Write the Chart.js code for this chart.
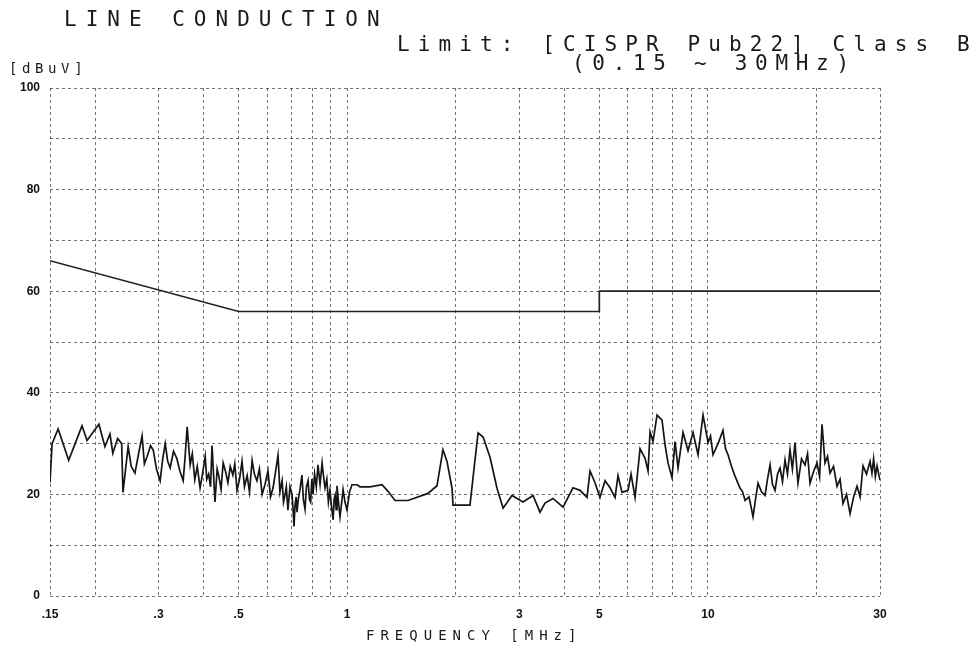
<!DOCTYPE html>
<html lang="en">
<head>
  <meta charset="UTF-8">
  <title>Line Conduction - CISPR Pub22 Class B</title>
  <script src="https://cdn.jsdelivr.net/npm/chart.js"></script>
  <style>
    body {
      margin: 0;
      background: #fff;
    }
    .wrap {
      position: relative;
      width: 977px;
      height: 650px;
    }
    .label {
      position: absolute;
      font-family: 'DejaVu Sans Mono', monospace;
      color: #1a1a1a;
      white-space: pre;
      line-height: 1;
    }
    #title { left: 64px; top: 9px; font-size: 21px; letter-spacing: 9px; }
    #limit { left: 397px; top: 34px; font-size: 21px; letter-spacing: 8.1px; }
    #range { left: 572px; top: 53px; font-size: 21px; letter-spacing: 7.7px; }
    #unit  { left: 9px;  top: 61px; font-size: 14px; letter-spacing: 4.6px; }
    #xname { left: 366px; top: 628px; font-size: 14px; letter-spacing: 6px; }
  </style>
</head>
<body>
<div class="wrap">
  <canvas id="emi" width="977" height="650"></canvas>
  <div class="label" id="title">LINE CONDUCTION</div>
  <div class="label" id="limit">Limit: [CISPR Pub22] Class B</div>
  <div class="label" id="range">(0.15 ~ 30MHz)</div>
  <div class="label" id="unit">[dBuV]</div>
  <div class="label" id="xname">FREQUENCY [MHz]</div>
</div>

<script>
  const freqs = [
    0.150, 0.152, 0.158, 0.169, 0.184, 0.190, 0.205, 0.213, 0.220, 0.224,
    0.231, 0.237, 0.239, 0.247, 0.252, 0.258, 0.264, 0.270, 0.274, 0.279,
    0.285, 0.290, 0.296, 0.303, 0.308, 0.313, 0.318, 0.323, 0.330, 0.337,
    0.344, 0.351, 0.355, 0.360, 0.367, 0.372, 0.378, 0.384, 0.391, 0.397,
    0.404, 0.408, 0.413, 0.418, 0.422, 0.426, 0.430, 0.436, 0.441, 0.447,
    0.453, 0.460, 0.467, 0.474, 0.482, 0.488, 0.495, 0.503, 0.511, 0.519,
    0.528, 0.536, 0.545, 0.553, 0.562, 0.571, 0.581, 0.592, 0.603, 0.613,
    0.623, 0.633, 0.643, 0.651, 0.660, 0.666, 0.672, 0.678, 0.685, 0.694,
    0.703, 0.708, 0.712, 0.717, 0.722, 0.726, 0.731, 0.740, 0.749, 0.756,
    0.764, 0.771, 0.779, 0.786, 0.792, 0.798, 0.804, 0.812, 0.821, 0.830,
    0.841, 0.852, 0.860, 0.868, 0.878, 0.887, 0.896, 0.905, 0.914, 0.920,
    0.926, 0.932, 0.937, 0.946, 0.955, 0.964, 0.974, 0.986, 0.999, 1.015,
    1.031, 1.065, 1.085, 1.157, 1.249, 1.298, 1.357, 1.474, 1.675, 1.774,
    1.843, 1.891, 1.953, 1.965, 2.190, 2.262, 2.306, 2.381, 2.489, 2.602,
    2.705, 2.864, 2.957, 3.072, 3.275, 3.424, 3.535, 3.720, 3.966, 4.227,
    4.420, 4.623, 4.712, 4.865, 5.022, 5.186, 5.354, 5.528, 5.634, 5.780,
    6.006, 6.122, 6.282, 6.485, 6.695, 6.825, 6.912, 7.045, 7.227, 7.462,
    7.605, 7.752, 7.953, 8.108, 8.264, 8.532, 8.808, 9.094, 9.390, 9.695,
    10.01, 10.17, 10.33, 10.67, 11.01, 11.19, 11.37, 11.63, 11.89, 12.28,
    12.48, 12.68, 13.00, 13.34, 13.55, 13.77, 14.08, 14.40, 14.63, 14.87,
    15.10, 15.35, 15.60, 15.85, 16.10, 16.36, 16.62, 16.89, 17.15, 17.44,
    17.60, 17.77, 18.18, 18.59, 18.89, 19.19, 19.63, 20.07, 20.40, 20.72,
    21.12, 21.46, 21.81, 22.30, 22.80, 23.25, 23.69, 24.23, 24.78, 25.35,
    25.91, 26.42, 26.92, 27.53, 28.15, 28.50, 28.80, 29.12, 29.44, 29.75,
    30.00
  ];
  const levels = [
    22.3, 30.0, 32.9, 26.7, 33.5, 30.6, 33.8, 29.4, 31.9, 28.1,
    31.0, 30.0, 20.4, 29.4, 25.5, 24.2, 28.0, 31.5, 26.0, 27.5,
    29.6, 28.7, 25.0, 22.7, 27.0, 30.0, 26.5, 25.2, 28.5, 27.1,
    24.5, 22.7, 27.0, 33.3, 25.8, 28.0, 22.9, 25.5, 21.3, 24.0,
    27.5, 23.0, 24.0, 21.5, 29.6, 24.0, 18.5, 25.0, 23.5, 21.0,
    26.2, 24.5, 22.3, 25.5, 23.8, 26.0, 20.8, 23.0, 26.5, 21.5,
    23.7, 20.5, 26.7, 24.0, 22.7, 25.0, 20.0, 22.0, 24.6, 19.5,
    21.3, 24.5, 27.7, 20.5, 22.7, 18.5, 19.8, 21.5, 16.9, 21.5,
    20.0, 17.0, 13.7, 18.0, 19.5, 16.5, 18.8, 21.0, 23.8, 19.0,
    17.1, 21.5, 22.7, 19.0, 18.5, 23.0, 20.0, 24.0, 21.5, 25.8,
    22.0, 26.2, 23.5, 21.3, 23.0, 18.5, 20.8, 17.5, 15.0, 19.0,
    19.8, 17.0, 21.7, 18.5, 15.6, 18.0, 21.0, 18.5, 16.9, 20.5,
    21.9, 21.9, 21.5, 21.5, 21.9, 20.6, 18.8, 18.8, 20.2, 21.7,
    28.8, 26.5, 21.2, 17.9, 17.9, 26.9, 32.1, 31.3, 27.3, 21.2,
    17.3, 19.8, 19.2, 18.5, 19.8, 16.5, 18.3, 19.2, 17.5, 21.3,
    20.8, 19.4, 24.6, 22.3, 19.4, 22.7, 21.3, 19.4, 23.7, 20.4,
    20.8, 24.0, 19.4, 29.0, 27.1, 24.6, 32.3, 30.4, 35.6, 34.6,
    29.8, 26.2, 23.3, 30.4, 25.2, 32.2, 28.6, 32.2, 27.8, 35.6,
    30.2, 31.5, 27.8, 30.0, 32.6, 29.0, 27.8, 25.5, 23.6, 21.2,
    20.5, 18.8, 19.5, 15.6, 19.0, 22.2, 20.5, 19.8, 23.0, 25.8,
    22.0, 20.8, 24.0, 25.2, 22.5, 26.8, 24.0, 28.8, 25.0, 30.2,
    26.0, 22.2, 27.0, 25.8, 28.0, 22.2, 24.5, 26.2, 23.5, 33.8,
    26.2, 27.5, 24.2, 25.5, 21.6, 23.0, 18.2, 20.0, 16.2, 19.5,
    21.6, 19.5, 25.6, 24.0, 26.5, 24.2, 27.0, 23.5, 25.6, 24.0,
    22.8
  ];

  // CISPR 22 class B limit
  const limitFreqs = [0.15, 0.5, 5, 5, 30];
  const limitLevels = [66, 56, 56, 60, 60];

  // axes
  const gridFreqs = [0.15, 0.2, 0.3, 0.4, 0.5, 0.6, 0.7, 0.8, 0.9, 1,
                     2, 3, 4, 5, 6, 7, 8, 9, 10, 20, 30];
  const freqLabels = { 0.15: '.15', 0.3: '.3', 0.5: '.5', 1: '1', 3: '3', 5: '5', 10: '10', 30: '30' };
  const levelLabels = [0, 20, 40, 60, 80, 100];

  const toPoints = (xs, ys) => xs.map((x, i) => ({ x: x, y: ys[i] }));

  const tickFont = { family: "'Liberation Sans', sans-serif", size: 12, weight: 'bold' };
  const gridColor = 'rgba(0,0,0,0.55)';

  new Chart(document.getElementById('emi'), {
    type: 'line',
    data: {
      datasets: [
        {
          label: 'Limit',
          data: toPoints(limitFreqs, limitLevels),
          borderColor: '#222',
          borderWidth: 1.7,
          pointRadius: 0,
          tension: 0
        },
        {
          label: 'Level',
          data: toPoints(freqs, levels),
          borderColor: '#151515',
          borderWidth: 1.7,
          pointRadius: 0,
          tension: 0
        }
      ]
    },
    options: {
      responsive: false,
      animation: false,
      layout: { padding: { left: 0, right: 97, top: 88, bottom: 0 } },
      plugins: {
        legend: { display: false },
        tooltip: { enabled: false }
      },
      scales: {
        x: {
          type: 'logarithmic',
          min: 0.15,
          max: 30,
          afterBuildTicks: scale => {
            scale.ticks = gridFreqs.map(v => ({ value: v }));
          },
          afterFit: scale => { scale.height = 54; },
          ticks: {
            autoSkip: false,
            maxRotation: 0,
            padding: 11,
            color: '#111',
            font: tickFont,
            callback: value => freqLabels[value] || ''
          },
          grid: { color: gridColor, lineWidth: 1, drawTicks: false },
          border: { display: false, dash: [3, 3] }
        },
        y: {
          min: 0,
          max: 100,
          afterFit: scale => { scale.width = 50; },
          ticks: {
            stepSize: 10,
            padding: 10,
            color: '#111',
            font: tickFont,
            callback: value => levelLabels.includes(value) ? String(value) : ''
          },
          grid: { color: gridColor, lineWidth: 1, drawTicks: false },
          border: { display: false, dash: [3, 3] }
        }
      }
    }
  });
</script>
</body>
</html>
